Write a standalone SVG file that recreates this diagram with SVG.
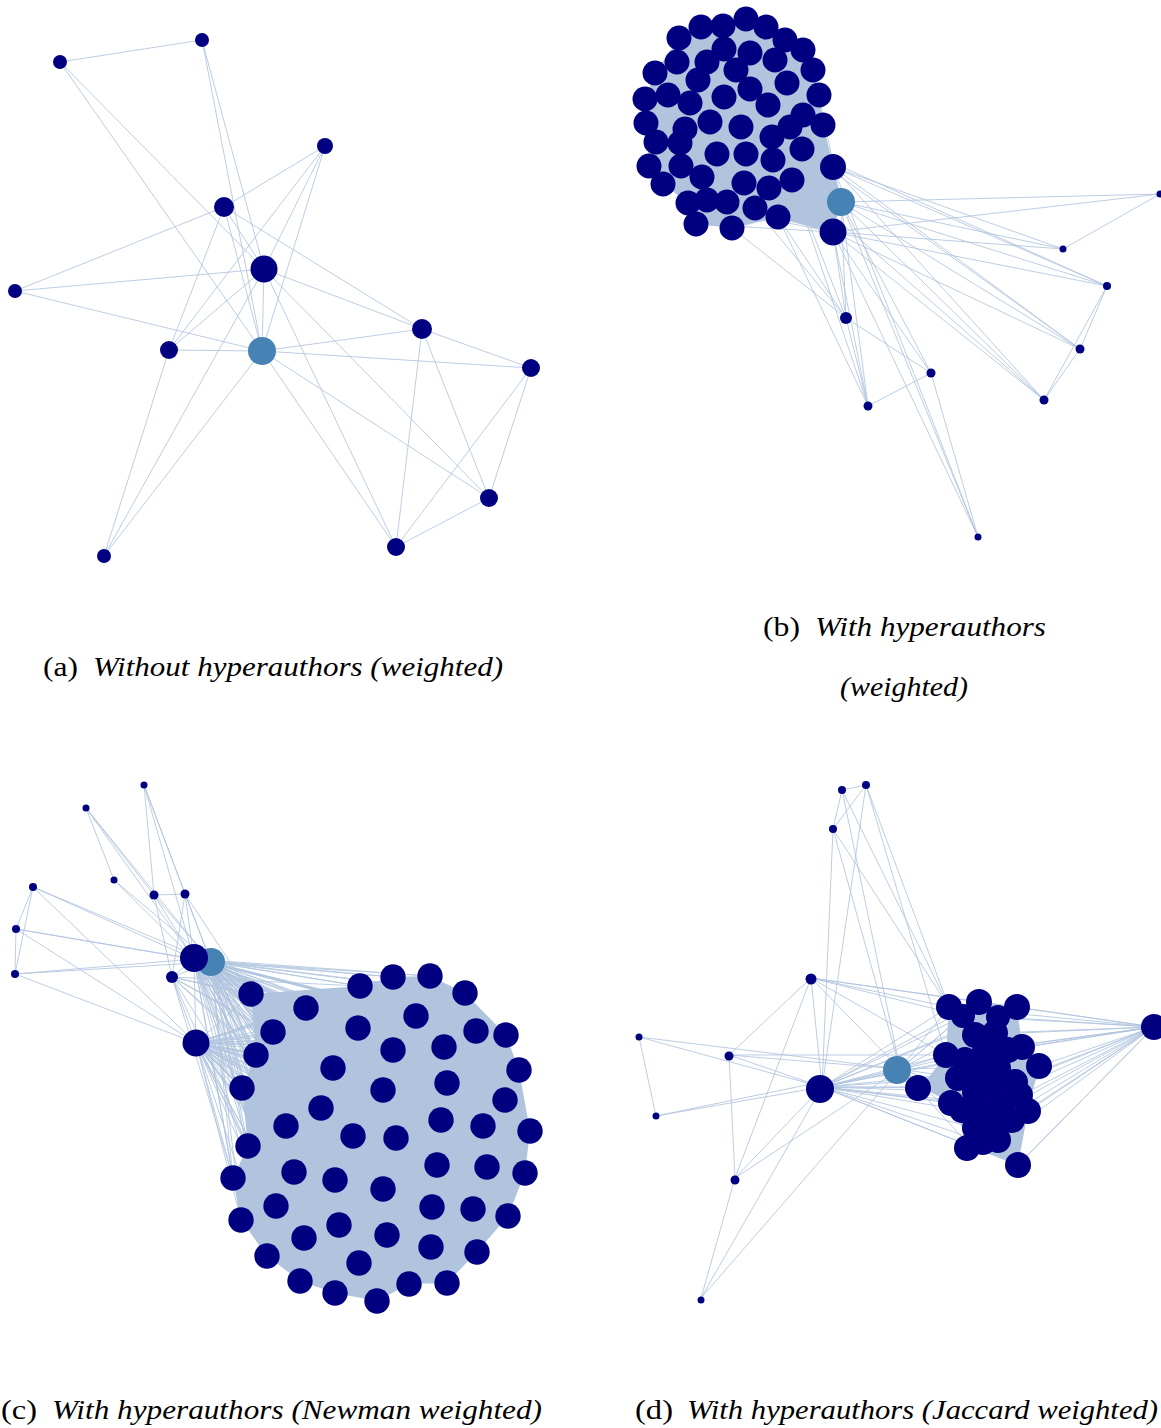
<svg xmlns="http://www.w3.org/2000/svg" width="1161" height="1428" viewBox="0 0 1161 1428">
<style>
.e{stroke:#b0c4de;stroke-width:1;fill:none;stroke-opacity:0.85}
.hull{fill:#b0c4de;stroke:none}
.n{fill:#000080}
.s{fill:#4682b4}
.cap{font-family:"Liberation Serif","DejaVu Serif",serif;font-size:27px;fill:#000}
.it{font-style:italic}
</style>
<rect width="1161" height="1428" fill="#fff"/>
<g id="connectors">
<!-- (a) -->
<path class="e" d="M60 62L202 40M60 62L264 269M60 62L262 351M202 40L264 269M202 40L262 351M325 146L224 207M325 146L264 269M325 146L169 350M325 146L262 351M224 207L264 269M224 207L15 291M224 207L169 350M224 207L262 351M224 207L422 329M264 269L15 291M264 269L169 350M264 269L262 351M264 269L422 329M264 269L489 498M264 269L396 547M264 269L104 556M15 291L262 351M169 350L262 351M169 350L104 556M262 351L422 329M262 351L531 368M262 351L489 498M262 351L396 547M262 351L104 556M422 329L531 368M422 329L489 498M422 329L396 547M531 368L489 498M531 368L396 547M489 498L396 547"/>
<!-- (b) -->
<polygon class="hull" points="746,19 766,27 785,40 803,50 813,70 819,95 823,125 833,167 841,202 833,232 778,217 732,228 696,224 688,203 663,184 649,166 646,123 645,99 655,73 679,38 701,27 723,26"/>
<path class="e" d="M841 202L823 125M841 202L803 115M841 202L790 127M841 202L772 137M841 202L746 154M841 202L717 154M841 202L681 166M841 202L663 184M841 202L702 177M841 202L744 183M841 202L769 188M841 202L792 180M841 202L755 208M841 202L727 202M841 202L696 224M841 202L732 228M841 202L819 95M841 202L787 83M833 232L823 125M833 232L802 149M833 232L773 160M833 232L746 154M833 232L717 154M833 232L680 143M833 232L663 184M833 232L688 203M833 232L707 200M833 232L727 202M833 232L755 208M833 232L778 217M833 232L696 224M833 232L792 180M833 232L769 188M833 232L744 183M833 232L819 95"/>
<path class="e" d="M1160 194L1063 249M1160 194L841 202M1160 194L833 232M1063 249L841 202M1063 249L833 232M1063 249L833 167M1107 286L841 202M1107 286L833 232M1107 286L833 167M1107 286L802 149M1107 286L1080 349M1107 286L1044 400M1080 349L1044 400M1080 349L841 202M1080 349L833 232M1080 349L833 167M1080 349L802 149M1044 400L841 202M1044 400L833 232M1044 400L833 167M1044 400L792 180M846 318L833 232M846 318L841 202M846 318L778 217M846 318L755 208M846 318L792 180M846 318L732 228M846 318L931 373M846 318L868 406M931 373L868 406M931 373L978 537M931 373L841 202M931 373L833 232M868 406L833 232M868 406L841 202M868 406L778 217M868 406L792 180M978 537L841 202M978 537L833 232M978 537L833 167"/>
<!-- (c) -->
<polygon class="hull" points="251,994 360,986 393,977 430,976 465,993 506,1035 519,1070 530,1131 525,1173 508,1216 477,1252 447,1283 409,1284 377,1301 335,1293 300,1281 267,1256 241,1220 233,1178 248,1146 242,1088 256,1055"/>
<path class="e" d="M194 959L251 994M194 959L306 1008M194 959L360 986M194 959L393 977M194 959L430 976M194 959L465 993M194 959L273 1032M194 959L358 1028M194 959L416 1016M194 959L476 1031M194 959L506 1035M194 959L256 1055M194 959L393 1050M194 959L444 1047M194 959L333 1068M194 959L519 1070M194 959L242 1088M194 959L383 1090M194 959L447 1083M194 959L505 1100M194 959L321 1108M194 959L286 1126M194 959L353 1136M194 959L396 1138M194 959L441 1120M194 959L483 1126M194 959L530 1131M194 959L248 1146M194 959L294 1172M194 959L335 1180M194 959L437 1165M194 959L487 1167M194 959L525 1173M194 959L233 1178M194 959L383 1189M194 959L276 1206M194 959L339 1225M194 959L432 1207M194 959L473 1209M194 959L508 1216M194 959L241 1220M194 959L304 1238M194 959L387 1235M194 959L431 1247M194 959L477 1252M194 959L267 1256M194 959L359 1263M194 959L300 1281M194 959L335 1293M194 959L377 1301M194 959L409 1284M194 959L447 1283"/>
<path class="e" d="M211 962L251 994M211 962L306 1008M211 962L360 986M211 962L393 977M211 962L430 976M211 962L465 993M211 962L273 1032M211 962L358 1028M211 962L416 1016M211 962L476 1031M211 962L506 1035M211 962L256 1055M211 962L393 1050M211 962L444 1047M211 962L333 1068M211 962L519 1070M211 962L242 1088M211 962L383 1090M211 962L447 1083M211 962L505 1100M211 962L321 1108M211 962L286 1126M211 962L353 1136M211 962L396 1138M211 962L441 1120M211 962L483 1126M211 962L530 1131M211 962L248 1146M211 962L294 1172M211 962L335 1180M211 962L437 1165M211 962L487 1167M211 962L525 1173M211 962L233 1178M211 962L383 1189M211 962L276 1206M211 962L339 1225M211 962L432 1207M211 962L473 1209M211 962L508 1216M211 962L241 1220M211 962L304 1238M211 962L387 1235M211 962L431 1247M211 962L477 1252M211 962L267 1256M211 962L359 1263M211 962L300 1281M211 962L335 1293M211 962L377 1301M211 962L409 1284M211 962L447 1283"/>
<path class="e" d="M196 1043L251 994M196 1043L306 1008M196 1043L360 986M196 1043L393 977M196 1043L430 976M196 1043L465 993M196 1043L273 1032M196 1043L358 1028M196 1043L416 1016M196 1043L476 1031M196 1043L506 1035M196 1043L256 1055M196 1043L393 1050M196 1043L444 1047M196 1043L333 1068M196 1043L519 1070M196 1043L242 1088M196 1043L383 1090M196 1043L447 1083M196 1043L505 1100M196 1043L321 1108M196 1043L286 1126M196 1043L353 1136M196 1043L396 1138M196 1043L441 1120M196 1043L483 1126M196 1043L530 1131M196 1043L248 1146M196 1043L294 1172M196 1043L335 1180M196 1043L437 1165M196 1043L487 1167M196 1043L525 1173M196 1043L233 1178M196 1043L383 1189M196 1043L276 1206M196 1043L339 1225M196 1043L432 1207M196 1043L473 1209M196 1043L508 1216M196 1043L241 1220M196 1043L304 1238M196 1043L387 1235M196 1043L431 1247M196 1043L477 1252M196 1043L267 1256M196 1043L359 1263M196 1043L300 1281M196 1043L335 1293M196 1043L377 1301M196 1043L409 1284M196 1043L447 1283"/>
<path class="e" d="M172 977L251 994M172 977L306 1008M172 977L360 986M172 977L273 1032M172 977L256 1055M172 977L242 1088M172 977L333 1068M172 977L248 1146M172 977L233 1178M172 977L321 1108"/>
<path class="e" d="M144 785L154 895M144 785L185 894M144 785L194 959M144 785L211 962M86 808L114 880M86 808L154 895M86 808L194 959M86 808L211 962M114 880L194 959M114 880L211 962M154 895L185 894M154 895L194 959M154 895L211 962M154 895L172 977M185 894L194 959M185 894L211 962M185 894L172 977M185 894L251 994M33 887L16 929M33 887L15 974M16 929L15 974M33 887L194 959M33 887L211 962M33 887L196 1043M16 929L194 959M16 929L211 962M16 929L196 1043M15 974L194 959M15 974L211 962M15 974L196 1043M172 977L194 959M172 977L196 1043M172 977L211 962M194 959L196 1043"/>
<!-- (d) -->
<polygon class="hull" points="949,1007 979,1002 1017,1007 1022,1047 1039,1066 1028,1111 1018,1165 970,1146 951,1103 921,1087 946,1055"/>
<path class="e" d="M1154 1027L1017 1007M1154 1027L998 1017M1154 1027L979 1002M1154 1027L1022 1047M1154 1027L1039 1066M1154 1027L1028 1111M1154 1027L1018 1165M1154 1027L1015 1082M1154 1027L1012 1120M1154 1027L1008 1050M1154 1027L998 1140M1154 1027L1002 1105M1154 1027L995 1033M1154 1027L995 1088M1154 1027L949 1007M1154 1027L963 1016M1154 1027L946 1055M1154 1027L975 1035M1154 1027L985 1050M1154 1027L992 1125M1154 1027L1030 1095M1154 1027L1035 1080"/>
<path class="e" d="M822 1087L949 1007M822 1087L963 1016M822 1087L979 1002M822 1087L946 1055M822 1087L951 1103M822 1087L970 1146M822 1087L958 1078M822 1087L965 1060M822 1087L975 1092M822 1087L962 1110M822 1087L975 1128M822 1087L1018 1165M822 1087L1039 1066M822 1087L1028 1111M822 1087L1022 1047M822 1087L921 1087M822 1087L900 1069M822 1087L985 1050M822 1087L983 1142M822 1087L1017 1007M822 1087L998 1017M822 1087L995 1088M822 1087L1002 1105"/>
<path class="e" d="M900 1069L949 1007M900 1069L963 1016M900 1069L946 1055M900 1069L951 1103M900 1069L970 1146M900 1069L958 1078M900 1069L962 1110M900 1069L1018 1165M900 1069L1039 1066M900 1069L1028 1111M900 1069L979 1002M900 1069L1017 1007"/>
<path class="e" d="M842 790L866 785M842 790L833 829M866 785L833 829M833 829L822 1087M866 785L822 1087M842 790L900 1069M833 829L900 1069M842 790L949 1007M866 785L949 1007M833 829L949 1007M866 785L946 1055M811 978L822 1087M811 978L729 1055M811 978L735 1178M811 978L949 1007M811 978L979 1002M811 978L946 1055M811 978L963 1016M811 978L900 1069M811 978L1017 1007M639 1037L656 1116M639 1037L822 1087M639 1037L900 1069M656 1116L822 1087M656 1116L821 1082M729 1055L735 1178M729 1055L822 1087M729 1055L900 1069M729 1055L946 1055M735 1178L822 1087M735 1178L900 1069M735 1178L701 1298M701 1298L822 1087M701 1298L900 1069M1154 1027L1018 1165"/>
</g>
<g id="panel-a">
<circle id="a1" class="n" cx="60" cy="62" r="7"/>
<circle id="a2" class="n" cx="202" cy="40" r="7"/>
<circle id="a3" class="n" cx="325" cy="146" r="8"/>
<circle id="a4" class="n" cx="224" cy="207" r="10"/>
<circle id="a5" class="n" cx="264" cy="269" r="13.5"/>
<circle id="a6" class="n" cx="15" cy="291" r="7"/>
<circle id="a7" class="n" cx="169" cy="350" r="9"/>
<circle id="a8" class="s" cx="262" cy="351" r="14"/>
<circle id="a9" class="n" cx="422" cy="329" r="10"/>
<circle id="a10" class="n" cx="531" cy="368" r="9"/>
<circle id="a11" class="n" cx="489" cy="498" r="9"/>
<circle id="a12" class="n" cx="396" cy="547" r="9"/>
<circle id="a13" class="n" cx="104" cy="556" r="7"/>
</g>
<g id="panel-b">
<g class="n">
<circle cx="746" cy="19" r="12.5"/><circle cx="723" cy="26" r="12.5"/><circle cx="701" cy="27" r="12.5"/><circle cx="766" cy="27" r="12.5"/><circle cx="679" cy="38" r="12.5"/><circle cx="785" cy="40" r="12.5"/><circle cx="803" cy="50" r="12.5"/><circle cx="724" cy="49" r="12.5"/><circle cx="750" cy="53" r="12.5"/><circle cx="775" cy="60" r="12.5"/><circle cx="677" cy="62" r="12.5"/><circle cx="707" cy="62" r="12.5"/><circle cx="736" cy="70" r="12.5"/><circle cx="813" cy="70" r="12.5"/><circle cx="655" cy="73" r="12.5"/><circle cx="698" cy="80" r="12.5"/><circle cx="787" cy="83" r="12.5"/><circle cx="750" cy="89" r="12.5"/><circle cx="819" cy="95" r="12.5"/><circle cx="645" cy="99" r="12.5"/><circle cx="668" cy="95" r="12.5"/><circle cx="724" cy="97" r="12.5"/><circle cx="768" cy="105" r="12.5"/><circle cx="690" cy="103" r="12.5"/><circle cx="803" cy="115" r="12.5"/><circle cx="823" cy="125" r="12.5"/><circle cx="646" cy="123" r="12.5"/><circle cx="710" cy="122" r="12.5"/><circle cx="741" cy="127" r="12.5"/><circle cx="790" cy="127" r="12.5"/><circle cx="656" cy="142" r="12.5"/><circle cx="685" cy="129" r="12.5"/><circle cx="680" cy="143" r="12.5"/><circle cx="772" cy="137" r="12.5"/><circle cx="802" cy="149" r="12.5"/><circle cx="717" cy="154" r="12.5"/><circle cx="746" cy="154" r="12.5"/><circle cx="773" cy="160" r="12.5"/><circle cx="833" cy="167" r="13"/><circle cx="649" cy="166" r="12.5"/><circle cx="681" cy="166" r="12.5"/><circle cx="702" cy="177" r="12.5"/><circle cx="744" cy="183" r="12.5"/><circle cx="792" cy="180" r="12.5"/><circle cx="769" cy="188" r="12.5"/><circle cx="663" cy="184" r="12.5"/><circle cx="688" cy="203" r="12.5"/><circle cx="707" cy="200" r="12.5"/><circle cx="727" cy="202" r="12.5"/><circle cx="755" cy="208" r="12.5"/><circle cx="778" cy="217" r="12.5"/><circle cx="696" cy="224" r="12.5"/><circle cx="732" cy="228" r="12.5"/>
</g>
<circle id="b-hyper" class="s" cx="841" cy="202" r="14"/>
<circle class="n" cx="833" cy="232" r="13.5"/>
<circle class="n" cx="1160" cy="194" r="3.5"/>
<circle class="n" cx="1063" cy="249" r="3.5"/>
<circle class="n" cx="1107" cy="286" r="4"/>
<circle class="n" cx="846" cy="318" r="6"/>
<circle class="n" cx="1080" cy="349" r="4.5"/>
<circle class="n" cx="931" cy="373" r="4.5"/>
<circle class="n" cx="1044" cy="400" r="4.5"/>
<circle class="n" cx="868" cy="406" r="4.5"/>
<circle class="n" cx="978" cy="537" r="3.5"/>
</g>
<g id="panel-c">
<circle class="n" cx="144" cy="785" r="3.5"/>
<circle class="n" cx="86" cy="808" r="3.5"/>
<circle class="n" cx="114" cy="880" r="3.5"/>
<circle class="n" cx="33" cy="887" r="4"/>
<circle class="n" cx="154" cy="895" r="4.5"/>
<circle class="n" cx="185" cy="894" r="4.5"/>
<circle class="n" cx="16" cy="929" r="4"/>
<circle class="n" cx="15" cy="974" r="4"/>
<circle id="c-hyper" class="s" cx="211" cy="962" r="14"/>
<circle class="n" cx="194" cy="958" r="14"/>
<circle class="n" cx="172" cy="977" r="6"/>
<circle class="n" cx="196" cy="1043" r="13.5"/>
<g class="n">
<circle cx="251" cy="994" r="12.7"/><circle cx="306" cy="1008" r="12.7"/><circle cx="360" cy="986" r="12.7"/><circle cx="393" cy="977" r="12.7"/><circle cx="430" cy="976" r="12.7"/><circle cx="465" cy="993" r="12.7"/><circle cx="273" cy="1032" r="12.7"/><circle cx="358" cy="1028" r="12.7"/><circle cx="416" cy="1016" r="12.7"/><circle cx="476" cy="1031" r="12.7"/><circle cx="506" cy="1035" r="12.7"/><circle cx="256" cy="1055" r="12.7"/><circle cx="393" cy="1050" r="12.7"/><circle cx="444" cy="1047" r="12.7"/><circle cx="333" cy="1068" r="12.7"/><circle cx="519" cy="1070" r="12.7"/><circle cx="242" cy="1088" r="12.7"/><circle cx="383" cy="1090" r="12.7"/><circle cx="447" cy="1083" r="12.7"/><circle cx="505" cy="1100" r="12.7"/><circle cx="321" cy="1108" r="12.7"/><circle cx="286" cy="1126" r="12.7"/><circle cx="353" cy="1136" r="12.7"/><circle cx="396" cy="1138" r="12.7"/><circle cx="441" cy="1120" r="12.7"/><circle cx="483" cy="1126" r="12.7"/><circle cx="530" cy="1131" r="12.7"/><circle cx="248" cy="1146" r="12.7"/><circle cx="294" cy="1172" r="12.7"/><circle cx="335" cy="1180" r="12.7"/><circle cx="437" cy="1165" r="12.7"/><circle cx="487" cy="1167" r="12.7"/><circle cx="525" cy="1173" r="12.7"/><circle cx="233" cy="1178" r="12.7"/><circle cx="383" cy="1189" r="12.7"/><circle cx="276" cy="1206" r="12.7"/><circle cx="339" cy="1225" r="12.7"/><circle cx="432" cy="1207" r="12.7"/><circle cx="473" cy="1209" r="12.7"/><circle cx="508" cy="1216" r="12.7"/><circle cx="241" cy="1220" r="12.7"/><circle cx="304" cy="1238" r="12.7"/><circle cx="387" cy="1235" r="12.7"/><circle cx="431" cy="1247" r="12.7"/><circle cx="477" cy="1252" r="12.7"/><circle cx="267" cy="1256" r="12.7"/><circle cx="359" cy="1263" r="12.7"/><circle cx="300" cy="1281" r="12.7"/><circle cx="335" cy="1293" r="12.7"/><circle cx="377" cy="1301" r="12.7"/><circle cx="409" cy="1284" r="12.7"/><circle cx="447" cy="1283" r="12.7"/>
</g>
</g>
<g id="panel-d">
<circle class="n" cx="842" cy="790" r="4"/>
<circle class="n" cx="866" cy="785" r="4"/>
<circle class="n" cx="833" cy="829" r="4"/>
<circle class="n" cx="811" cy="979" r="5.5"/>
<circle class="n" cx="639" cy="1037" r="3.5"/>
<circle class="n" cx="729" cy="1056" r="4.5"/>
<circle class="n" cx="656" cy="1116" r="3.5"/>
<circle class="n" cx="735" cy="1180" r="4.5"/>
<circle class="n" cx="701" cy="1300" r="3.5"/>
<circle class="n" cx="820" cy="1089" r="14"/>
<circle id="d-hyper" class="s" cx="897" cy="1070" r="14"/>
<circle class="n" cx="1154" cy="1027" r="13"/>
<g class="n">
<circle cx="949" cy="1007" r="13"/><circle cx="979" cy="1002" r="13"/><circle cx="1017" cy="1007" r="13"/><circle cx="963" cy="1016" r="12"/><circle cx="998" cy="1017" r="12"/><circle cx="946" cy="1055" r="13"/><circle cx="1022" cy="1047" r="13"/><circle cx="1039" cy="1066" r="13"/><circle cx="951" cy="1103" r="13"/><circle cx="1028" cy="1111" r="13"/><circle cx="967" cy="1148" r="13"/><circle cx="1018" cy="1165" r="13"/>
<circle cx="975" cy="1035" r="13"/><circle cx="995" cy="1033" r="13"/><circle cx="1008" cy="1050" r="13"/><circle cx="985" cy="1050" r="13"/><circle cx="965" cy="1060" r="13"/><circle cx="958" cy="1078" r="13"/><circle cx="978" cy="1072" r="13"/><circle cx="998" cy="1068" r="13"/><circle cx="1015" cy="1082" r="13"/><circle cx="995" cy="1088" r="13"/><circle cx="975" cy="1092" r="13"/><circle cx="962" cy="1110" r="13"/><circle cx="982" cy="1110" r="13"/><circle cx="1002" cy="1105" r="13"/><circle cx="1012" cy="1120" r="13"/><circle cx="992" cy="1125" r="13"/><circle cx="975" cy="1128" r="13"/><circle cx="998" cy="1140" r="13"/><circle cx="983" cy="1142" r="13"/><circle cx="1020" cy="1095" r="13"/>
<circle cx="918" cy="1088" r="13"/>
</g>
</g>
<g id="captions" class="cap">
<text x="43" y="676" textLength="35" lengthAdjust="spacingAndGlyphs">(a)</text>
<text class="it" x="93" y="676" textLength="410" lengthAdjust="spacingAndGlyphs">Without hyperauthors (weighted)</text>
<text x="763" y="636" textLength="37" lengthAdjust="spacingAndGlyphs">(b)</text>
<text class="it" x="815" y="636" textLength="231" lengthAdjust="spacingAndGlyphs">With hyperauthors</text>
<text class="it" x="840" y="696" textLength="128" lengthAdjust="spacingAndGlyphs">(weighted)</text>
<text x="1" y="1419" textLength="36" lengthAdjust="spacingAndGlyphs">(c)</text>
<text class="it" x="52" y="1419" textLength="490" lengthAdjust="spacingAndGlyphs">With hyperauthors (Newman weighted)</text>
<text x="635" y="1419" textLength="38" lengthAdjust="spacingAndGlyphs">(d)</text>
<text class="it" x="687" y="1419" textLength="471" lengthAdjust="spacingAndGlyphs">With hyperauthors (Jaccard weighted)</text>
</g>
</svg>
